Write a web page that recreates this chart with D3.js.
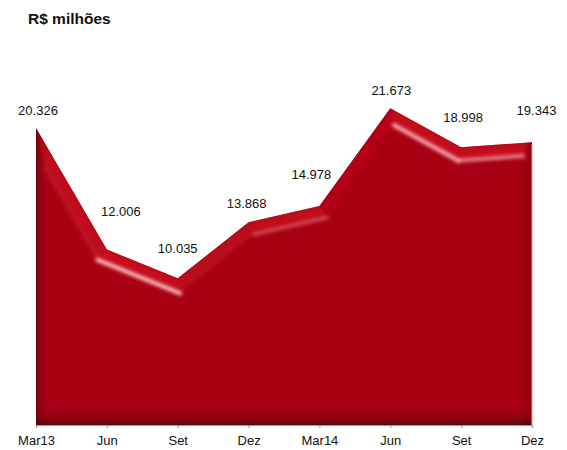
<!DOCTYPE html>
<html>
<head>
<meta charset="utf-8">
<script src="https://cdn.jsdelivr.net/npm/d3@7"></script>
<style>
  body { margin: 0; background: #fff; }
  svg { display: block; }
  text { font-family: Arial, "Liberation Sans", sans-serif; }
</style>
</head>
<body>
<svg id="chart" width="567" height="450"></svg>
<script>
// Quarterly values, R$ millions
const periods = ["Mar13", "Jun", "Set", "Dez", "Mar14", "Jun", "Set", "Dez"];
const values = [20326, 12006, 10035, 13868, 14978, 21673, 18998, 19343];
const yMax = 25000;
const title = "R$ milhões";

const svg = d3.select("#chart");
const fmt = d3.formatLocale({ decimal: ",", thousands: ".", grouping: [3], currency: ["R$ ", ""] }).format(",d");

const x = d3.scalePoint().domain(d3.range(values.length)).range([36, 532]);
const y = d3.scaleLinear().domain([0, yMax]).range([425, 59.6]);

const pts = values.map((v, i) => [x(i), y(v)]);
const x0 = x(0), xN = x(values.length - 1), yB = y(0);

const area = d3.area().x((d, i) => x(i)).y0(yB).y1(d => y(d));
const defs = svg.append("defs");
defs.append("clipPath").attr("id", "areaClip").append("path").attr("d", area(values));

function blurFilter(id, sd) {
  defs.append("filter").attr("id", id)
    .attr("x", "-10%").attr("y", "-10%").attr("width", "120%").attr("height", "120%")
    .append("feGaussianBlur").attr("stdDeviation", sd);
}
blurFilter("soft", 2.6);
blurFilter("glow", 1.5);

function gradient(id, x1, y1, x2, y2, stops) {
  const g = defs.append("linearGradient").attr("id", id)
    .attr("x1", x1).attr("y1", y1).attr("x2", x2).attr("y2", y2);
  stops.forEach(s => g.append("stop").attr("offset", s[0]).attr("stop-color", s[1]).attr("stop-opacity", s[2]));
}
gradient("leftShade", 0, 0, 1, 0, [[0, "#4a0808", 0.6], [0.5, "#5a0a0a", 0.18], [1, "#5a0a0a", 0]]);
gradient("rightShade", 0, 0, 1, 0, [[0, "#4a0808", 0], [0.7, "#4a0808", 0.22], [1, "#4a0808", 0.42]]);
gradient("bottomShade", 0, 0, 0, 1, [[0, "#3a0a0a", 0], [0.6, "#3a0a0a", 0.28], [1, "#3a0a0a", 0.7]]);

// base fill
svg.append("path").attr("d", area(values)).attr("fill", "#a60012");

const bevel = svg.append("g").attr("clip-path", "url(#areaClip)");

// top bevel: face between the outline and an inner offset outline
const depth = 13;
const L = (() => { const l = Math.hypot(0.3, 1); return [0.3 / l, -1 / l]; })();
const segs = d3.range(pts.length - 1).map(i => {
  const [ax, ay] = pts[i], [bx, by] = pts[i + 1];
  const dx = bx - ax, dy = by - ay, len = Math.hypot(dx, dy);
  const n = [-dy / len, dx / len];              // inward normal
  const dot = -n[0] * L[0] - n[1] * L[1];       // outward normal vs light
  return { a: pts[i], b: pts[i + 1], u: [dx / len, dy / len], n, dot };
});
function intersect(p, u, q, v) {
  const cr = u[0] * v[1] - u[1] * v[0];
  const t = ((q[0] - p[0]) * v[1] - (q[1] - p[1]) * v[0]) / cr;
  return [p[0] + t * u[0], p[1] + t * u[1]];
}
const off = s => [s.a[0] + depth * s.n[0], s.a[1] + depth * s.n[1]];
const inner = pts.map((p, i) => {
  if (i === 0) return intersect(off(segs[0]), segs[0].u, [x0 + 9, 0], [0, 1]);
  if (i === pts.length - 1) { const s = segs[i - 1]; return intersect(off(s), s.u, [xN - 9, 0], [0, 1]); }
  return intersect(off(segs[i - 1]), segs[i - 1].u, off(segs[i]), segs[i].u);
});

const clamp = v => Math.max(0, Math.min(1, v));
const faceColor = d3.interpolateRgb("#b30616", "#c60f1f");
const faces = bevel.append("g").attr("filter", "url(#soft)");
segs.forEach((s, i) => {
  const shade = clamp((s.dot - 0.3) / 0.7);
  faces.append("path")
    .attr("d", d3.line()([pts[i], pts[i + 1], inner[i + 1], inner[i]]) + "Z")
    .attr("fill", faceColor(shade));
});

// side and bottom shading
bevel.append("rect").attr("x", x0).attr("y", 0).attr("width", 11).attr("height", yB)
  .attr("fill", "url(#leftShade)");
bevel.append("rect").attr("x", xN - 10).attr("y", 0).attr("width", 10).attr("height", yB)
  .attr("fill", "url(#rightShade)");
bevel.append("rect").attr("x", x0).attr("y", yB - 15).attr("width", xN - x0).attr("height", 15)
  .attr("fill", "url(#bottomShade)");

// specular streaks along the inner edge
const glow = bevel.append("g").attr("filter", "url(#glow)");
segs.forEach((s, i) => {
  const k = Math.pow(clamp((s.dot - 0.7) / 0.3), 2.2);
  const faint = clamp((s.dot - 0.6) / 0.4) * 0.28;
  const seg = d3.line()([inner[i], inner[i + 1]]);
  glow.append("path").attr("d", seg).attr("fill", "none")
    .attr("stroke", "#f06676").attr("stroke-width", 7).attr("stroke-linecap", "round")
    .attr("stroke-opacity", Math.max(0.6 * k, faint));
  if (k > 0.05) {
    glow.append("path").attr("d", seg).attr("fill", "none")
      .attr("stroke", "#ffffff").attr("stroke-width", 2.2).attr("stroke-linecap", "round")
      .attr("stroke-opacity", 0.8 * k);
  }
});

// thin light rim on the right side
svg.append("line").attr("x1", xN).attr("x2", xN).attr("y1", pts[pts.length - 1][1] + 2).attr("y2", yB)
  .attr("stroke", "#f4a0a6").attr("stroke-width", 1);

// x axis
const gx = svg.append("g").attr("transform", `translate(0,${yB})`)
  .call(d3.axisBottom(x).tickSize(3).tickSizeOuter(0).tickPadding(7.5).tickFormat(i => periods[i]));
gx.select(".domain").attr("stroke", "#9a9a9a").attr("stroke-width", 1.2);
gx.selectAll(".tick line").attr("stroke", "#9a9a9a").attr("stroke-width", 1.2);
gx.selectAll("text").attr("font-size", 13).attr("fill", "#111")
  .attr("font-family", "Arial, 'Liberation Sans', sans-serif");

// value labels (dx, rise above the point)
const labelNudge = [[2, 18], [14, 38], [0, 30.5], [-2, 19], [-8, 32], [1, 18], [2, 30], [4.5, 31.5]];
svg.append("g").selectAll("text").data(values).join("text")
  .attr("x", (d, i) => x(i) + labelNudge[i][0])
  .attr("y", (d, i) => y(d) - labelNudge[i][1] + 4.7)
  .attr("text-anchor", "middle")
  .attr("font-size", 13)
  .attr("fill", "#111")
  .text(d => fmt(d));

// title
svg.append("text").attr("x", 28).attr("y", 24)
  .attr("font-size", 15.5).attr("font-weight", "bold").attr("fill", "#111")
  .text(title);
</script>
</body>
</html>
